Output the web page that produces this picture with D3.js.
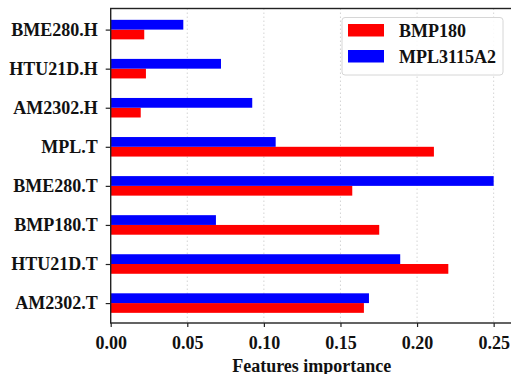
<html>
<head>
  <script src="https://d3js.org/d3.v7.min.js"></script>
  <style>
    body { margin: 0; background: #fff; }
    text { font-family: "Liberation Serif", "Times New Roman", serif; font-weight: bold; }
  </style>
</head>
<body>
  <div id="chart"></div>
  <script>
    // categories, bottom to top
    const features = ["AM2302.T", "HTU21D.T", "BMP180.T", "BME280.T", "MPL.T", "AM2302.H", "HTU21D.H", "BME280.H"];
    const bmp180 = [0.1653, 0.2204, 0.1753, 0.1577, 0.2110, 0.0196, 0.0230, 0.0219];
    const mpl3115 = [0.1686, 0.1890, 0.0687, 0.2500, 0.1077, 0.0924, 0.0720, 0.0474];
    const xTicks = [0, 0.05, 0.10, 0.15, 0.20, 0.25];
    const seriesNames = ["BMP180", "MPL3115A2"];
    const colors = ["#ff0000", "#0000ff"];

    const w = 511, h = 374;
    const padL = 110.7, padR = 512.8, padT = 8.5, padB = 323;
    const fs = 18;

    const svg = d3.select("#chart").append("svg")
      .attr("width", w).attr("height", h);

    const x = d3.scaleLinear().domain([0, 0.2625]).range([padL, padR]);
    const y = d3.scaleLinear().domain([-0.51, 7.54]).range([padB, padT]);
    const barH = 0.25;

    // grid
    svg.append("g").selectAll("line")
      .data(xTicks.slice(1))
      .enter().append("line")
      .attr("x1", d => x(d)).attr("x2", d => x(d))
      .attr("y1", padT).attr("y2", padB)
      .attr("stroke", "#d0d0d0")
      .attr("stroke-width", 0.9)
      .attr("stroke-dasharray", "1.5,2.5");

    // bars: red below the tick, blue above
    const series = [bmp180, mpl3115];
    series.forEach((vals, s) => {
      svg.append("g").selectAll("rect")
        .data(vals)
        .enter().append("rect")
        .attr("x", x(0))
        .attr("width", d => x(d) - x(0))
        .attr("y", (d, i) => s === 0 ? y(i) : y(i + barH))
        .attr("height", y(0) - y(barH))
        .attr("fill", colors[s]);
    });

    // axes
    const xAxis = d3.axisBottom(x).tickValues(xTicks)
      .tickFormat(d3.format(".2f")).tickSize(4).tickPadding(9);
    const gx = svg.append("g")
      .attr("transform", "translate(0," + padB + ")")
      .call(xAxis);
    gx.select(".domain").remove();
    gx.selectAll("text").attr("font-size", fs).attr("fill", "#111")
      .attr("font-family", "Liberation Serif").attr("font-weight", "bold");
    gx.selectAll("line").attr("stroke", "#222").attr("stroke-width", 1.2);

    const yAxis = d3.axisLeft(y).tickValues(d3.range(features.length))
      .tickFormat(i => features[i]).tickSize(5).tickPadding(8);
    const gy = svg.append("g")
      .attr("transform", "translate(" + padL + ",0)")
      .call(yAxis);
    gy.select(".domain").remove();
    gy.selectAll("text").attr("font-size", fs).attr("fill", "#111")
      .attr("font-family", "Liberation Serif").attr("font-weight", "bold");
    gy.selectAll("line").attr("stroke", "#222").attr("stroke-width", 1.2);

    // spines
    svg.append("rect")
      .attr("x", padL).attr("y", padT)
      .attr("width", padR - padL).attr("height", padB - padT)
      .attr("fill", "none").attr("stroke", "#222").attr("stroke-width", 1.4);

    // axis label
    svg.append("text")
      .attr("x", (padL + padR) / 2).attr("y", 371.5)
      .attr("text-anchor", "middle")
      .attr("font-size", fs).attr("fill", "#111")
      .text("Features importance");

    // legend
    const legend = svg.append("g");
    legend.append("rect")
      .attr("x", 342).attr("y", 17.5).attr("width", 161).attr("height", 57.5)
      .attr("rx", 3)
      .attr("fill", "#fff").attr("fill-opacity", 0.85)
      .attr("stroke", "#d6d6d6").attr("stroke-width", 1);
    seriesNames.forEach((name, i) => {
      legend.append("rect")
        .attr("x", 348).attr("y", 24 + i * 26)
        .attr("width", 36).attr("height", 12.5)
        .attr("fill", colors[i]);
      legend.append("text")
        .attr("x", 399).attr("y", 36.8 + i * 26)
        .attr("font-size", fs).attr("fill", "#111")
        .text(name);
    });
  </script>
</body>
</html>
